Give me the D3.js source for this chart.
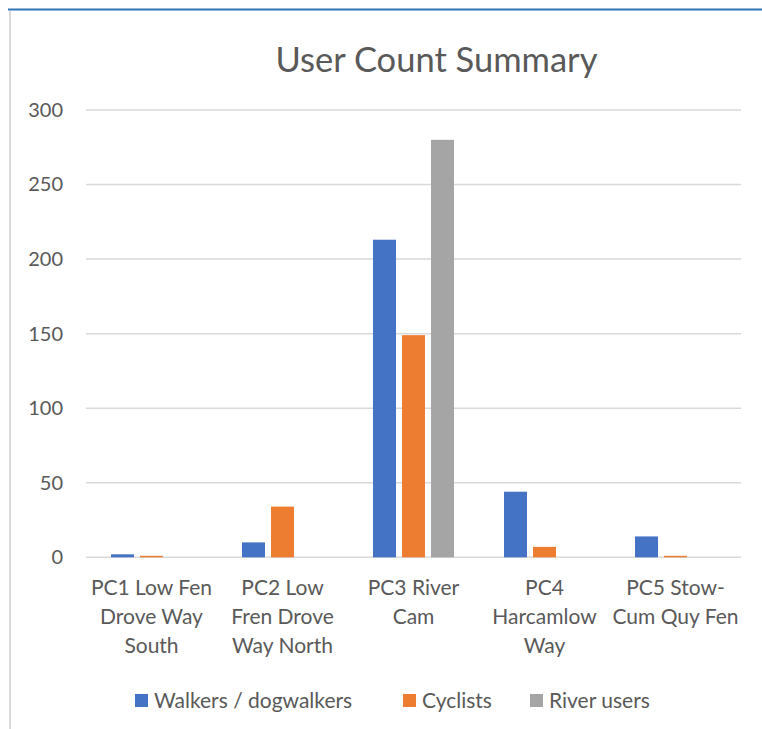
<!DOCTYPE html>
<html>
<head>
<meta charset="utf-8">
<script src="https://cdn.jsdelivr.net/npm/d3@7"></script>
<style>
  html, body { margin: 0; padding: 0; background: #ffffff; }
  svg { display: block; }
  text { font-family: Lato, "Open Sans", sans-serif; fill: #595959; }
</style>
</head>
<body>
<svg id="chart" width="762" height="729"></svg>
<script>
const title = "User Count Summary";
const categories = ["PC1", "PC2", "PC3", "PC4", "PC5"];
const categoryLabels = [
  ["PC1 Low Fen", "Drove Way", "South"],
  ["PC2 Low", "Fren Drove", "Way North"],
  ["PC3 River", "Cam"],
  ["PC4", "Harcamlow", "Way"],
  ["PC5 Stow-", "Cum Quy Fen"]
];
const seriesNames = ["Walkers / dogwalkers", "Cyclists", "River users"];
const walkers = [2, 10, 213, 44, 14];
const cyclists = [1, 34, 149, 7, 1];
const riverUsers = [0, 0, 280, 0, 0];
const seriesColors = ["#4472c4", "#ed7d31", "#a5a5a5"];
const yTicks = [0, 50, 100, 150, 200, 250, 300];

const seriesValues = [walkers, cyclists, riverUsers];

const svg = d3.select("#chart");

// frame lines
svg.append("line").attr("x1", 8).attr("x2", 762).attr("y1", 9.5).attr("y2", 9.5)
  .attr("stroke", "#2e75b6").attr("stroke-width", 2);
svg.append("line").attr("x1", 10).attr("x2", 10).attr("y1", 11).attr("y2", 729)
  .attr("stroke", "#d9d9d9").attr("stroke-width", 2);

const plotLeft = 86, plotRight = 741, plotTop = 110, plotBottom = 557.3;

const x0 = d3.scaleBand().domain(categories).range([plotLeft, plotRight]).padding(0);
const groupW = 81;
const x1 = d3.scaleBand().domain(seriesNames)
  .range([(x0.bandwidth() - groupW) / 2, (x0.bandwidth() + groupW) / 2])
  .paddingInner(0.207).paddingOuter(0);
const y = d3.scaleLinear().domain([0, 300]).range([plotBottom, plotTop]);

// gridlines
svg.append("g").selectAll("line").data(yTicks).join("line")
  .attr("x1", plotLeft).attr("x2", plotRight)
  .attr("y1", d => y(d)).attr("y2", d => y(d))
  .attr("stroke", "#d9d9d9").attr("stroke-width", 1.5);

// y axis labels
const yAxis = svg.append("g").attr("transform", `translate(${plotLeft - 23},0)`)
  .call(d3.axisLeft(y).tickValues(yTicks).tickSize(0).tickPadding(0));
yAxis.select(".domain").remove();
yAxis.selectAll("text").attr("font-size", 20).attr("fill", "#595959")
  .attr("font-family", "Lato, 'Open Sans', sans-serif");

// bars
const groups = svg.append("g").selectAll("g").data(categories).join("g")
  .attr("transform", d => `translate(${x0(d)},0)`);
groups.selectAll("rect")
  .data((c, i) => seriesNames.map((s, j) => ({ s, v: seriesValues[j][i], j })))
  .join("rect")
  .attr("x", d => x1(d.s))
  .attr("width", x1.bandwidth())
  .attr("y", d => y(d.v))
  .attr("height", d => y(0) - y(d.v))
  .attr("fill", d => seriesColors[d.j]);

// category labels
const lab = svg.append("g").selectAll("text").data(categories).join("text")
  .attr("text-anchor", "middle")
  .attr("font-size", 21)
  .attr("x", d => x0(d) + x0.bandwidth() / 2);
lab.selectAll("tspan").data((d, i) => categoryLabels[i]).join("tspan")
  .attr("x", function () { return d3.select(this.parentNode).attr("x"); })
  .attr("y", (d, k) => 595 + k * 29)
  .text(d => d);

// title
svg.append("text").attr("x", 436.5).attr("y", 72).attr("text-anchor", "middle")
  .attr("font-size", 34.5).text(title);

// legend
const legendX = [135, 403, 530];
const lg = svg.append("g").selectAll("g").data(seriesNames).join("g")
  .attr("transform", (d, i) => `translate(${legendX[i]},694)`);
lg.append("rect").attr("width", 13).attr("height", 13).attr("fill", (d, i) => seriesColors[i]);
lg.append("text").attr("x", 19).attr("y", 13.5).attr("font-size", 21).text(d => d);
</script>
</body>
</html>
